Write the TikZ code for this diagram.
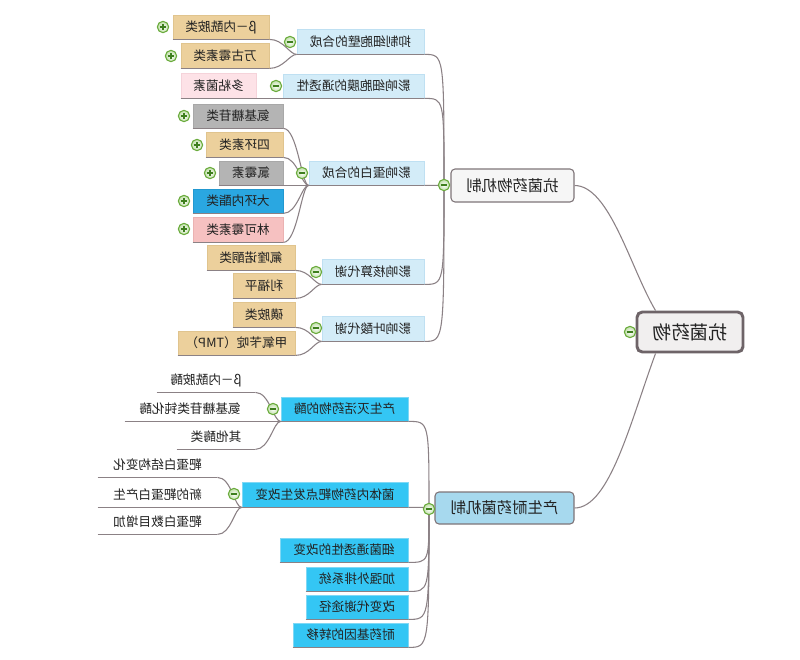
\documentclass[tikz,border=0pt]{standalone}
\usepackage{fontspec}
\usepackage{graphicx}
\setmainfont{Noto Sans CJK SC}
\definecolor{txt}{HTML}{222222}
\definecolor{lnc}{HTML}{8B8185}
\definecolor{lbf}{HTML}{D3ECF8}
\definecolor{lbd}{HTML}{BFE0F2}
\definecolor{tanf}{HTML}{ECD09C}
\definecolor{tand}{HTML}{E0C48E}
\definecolor{grf}{HTML}{B4B4B4}
\definecolor{grd}{HTML}{A8A8A8}
\definecolor{pklf}{HTML}{FDE2E7}
\definecolor{pkld}{HTML}{F5D3DA}
\definecolor{bluf}{HTML}{2AA7E1}
\definecolor{blud}{HTML}{2298D0}
\definecolor{pkf}{HTML}{F6C1C1}
\definecolor{pkd}{HTML}{EBB2B2}
\definecolor{cyf}{HTML}{34C6F4}
\definecolor{cyd}{HTML}{7FD8F5}
\definecolor{b2f}{HTML}{A7D9EE}
\definecolor{b1f}{HTML}{F6F6F6}
\definecolor{brd}{HTML}{7F7579}
\definecolor{rootf}{HTML}{F1EFEF}
\definecolor{rootd}{HTML}{6E6468}
\definecolor{btnf}{HTML}{E3F4D4}
\definecolor{btnd}{HTML}{6AAB3C}
\definecolor{btnm}{HTML}{3E7F1E}
\tikzset{
  box/.style={inner sep=0pt, line width=0.6pt, text=txt, font=\fontsize{9.5}{11}\selectfont},
  lvtwo/.style={fill=lbf, draw=lbd},
  tanb/.style={fill=tanf, draw=tand},
  gryb/.style={fill=grf, draw=grd},
  pklb/.style={fill=pklf, draw=pkld},
  blub/.style={fill=bluf, draw=blud},
  pinkb/.style={fill=pkf, draw=pkd},
  cyanb/.style={fill=cyf, draw=cyd},
  plainb/.style={},
  brb/.style={rounded corners=3pt, draw=brd, line width=0.8pt, font=\fontsize{11.5}{13}\selectfont},
  rootb/.style={rounded corners=4pt, draw=rootd, line width=2.2pt, fill=rootf, font=\fontsize{14}{16}\selectfont},
  conn/.style={draw=lnc, line width=0.8pt},
  cbtn/.style={circle, minimum size=8.5pt, inner sep=0pt, draw=btnd, line width=0.8pt, inner color=white, outer color=btnf!70!btnd},
  cmark/.style={draw=btnm, line width=0.9pt}
}
\newcommand\bx[7]{\node[box,#6,minimum width={(#4-#2)*0.75pt},minimum height={(#5-#3)*0.75pt}] (#1) at ({(#2+#4)/2},{(#3+#5)/2}) {\reflectbox{#7}};}
\newcommand\ulin[1]{\draw[conn] (#1.south west) -- (#1.south east);}
\newcommand\cmin[3]{\node[cbtn] (#1) at (#2,#3) {}; \draw[cmark] ([xshift=-2.3pt]#1.center) -- ([xshift=2.3pt]#1.center);}
\newcommand\cplus[3]{\node[cbtn] (#1) at (#2,#3) {}; \draw[cmark] ([xshift=-2.3pt]#1.center) -- ([xshift=2.3pt]#1.center) ([yshift=-2.3pt]#1.center) -- ([yshift=2.3pt]#1.center);}
\begin{document}
\begin{tikzpicture}[x=0.75pt,y=-0.75pt]
\fill[white] (0,0) rectangle (800,660);
\useasboundingbox (0,0) rectangle (800,660);
% root and branches
\bx{root}{637}{312}{743}{352}{rootb}{抗菌药物}
\bx{b1}{451}{169}{574}{202}{brb,fill=b1f}{抗菌药物机制}
\bx{b2}{435}{492}{574}{524}{brb,fill=b2f}{产生耐药菌机制}
% branch 1 level 2
\bx{a1}{297}{29}{424}{54}{lvtwo}{抑制细胞壁的合成}
\bx{a2}{283}{74}{424}{98}{lvtwo}{影响细胞膜的通透性}
\bx{a3}{309}{161}{424}{185}{lvtwo}{影响蛋白的合成}
\bx{a4}{322}{259}{424}{284}{lvtwo}{影响核算代谢}
\bx{a5}{322}{316}{424}{341}{lvtwo}{影响叶酸代谢}
% branch 1 leaves
\bx{a11}{173}{15}{269}{39}{tanb}{β－内酰胺类}
\bx{a12}{181}{43}{269}{68}{tanb}{万古霉素类}
\bx{a21}{181}{73}{256}{98}{pklb}{多粘菌素}
\bx{a31}{193}{104}{283}{128}{gryb}{氨基糖苷类}
\bx{a32}{206}{132}{283}{157}{tanb}{四环素类}
\bx{a33}{219}{161}{283}{185}{gryb}{氯霉素}
\bx{a34}{193}{189}{283}{213}{blub}{大环内酯类}
\bx{a35}{193}{217}{283}{242}{pinkb}{林可霉素类}
\bx{a41}{207}{245}{295}{270}{tanb}{氟喹诺酮类}
\bx{a42}{233}{273}{295}{298}{tanb}{利福平}
\bx{a51}{233}{302}{295}{327}{tanb}{磺胺类}
\bx{a52}{178}{331}{295}{355}{tanb}{甲氧苄啶（TMP）}
% branch 2 level 2
\bx{c1}{281}{397}{408}{421}{cyanb}{产生灭活药物的酶}
\bx{c2}{242}{482}{408}{507}{cyanb}{菌体内药物靶点发生改变}
\bx{c3}{280}{538}{408}{562}{cyanb}{细菌通透性的改变}
\bx{c4}{306}{567}{408}{591}{cyanb}{加强外排系统}
\bx{c5}{306}{595}{408}{619}{cyanb}{改变代谢途径}
\bx{c6}{293}{623}{408}{647}{cyanb}{耐药基因的转移}
% branch 2 leaves
\bx{c11}{157}{368}{255}{392}{plainb}{β－内酰胺酶}
\bx{c12}{125}{397}{255}{421}{plainb}{氨基糖苷类钝化酶}
\bx{c13}{177}{425}{255}{449}{plainb}{其他酶类}
\bx{c21}{98}{453}{217}{477}{plainb}{靶蛋白结构变化}
\bx{c22}{98}{482}{217}{507}{plainb}{新的靶蛋白产生}
\bx{c23}{98}{510}{217}{534}{plainb}{靶蛋白数目增加}
% underlines
\foreach \n in {a1,a2,a3,a4,a5,a11,a12,a21,a31,a32,a33,a34,a35,a41,a42,a51,a52,c1,c2,c3,c4,c5,c6,c11,c12,c13,c21,c22,c23} {\ulin{\n}}
% button anchors
\coordinate (k1) at (444,185);
\coordinate (k2) at (429,509);
% root connectors
\draw[conn] (b1.east) .. controls +(35,0) and +(-25,-42) .. ([xshift=15pt]root.north west);
\draw[conn] (b2.east) .. controls +(35,0) and +(-25,68) .. ([xshift=15pt]root.south west);
% branch 1 spine
\foreach \n in {a1,a2,a3,a4,a5} {\draw[conn] (\n.south east) .. controls (k1 |- \n.south east) .. (k1);}
% branch 2 spine
\foreach \n in {c1,c2,c3,c4,c5,c6} {\draw[conn] (\n.south east) .. controls (k2 |- \n.south east) .. (k2);}
% level 3 connectors
\foreach \l/\p in {a11/a1,a12/a1,a21/a2,a31/a3,a32/a3,a33/a3,a34/a3,a35/a3,a41/a4,a42/a4,a51/a5,a52/a5,c11/c1,c12/c1,c13/c1,c21/c2,c22/c2,c23/c2}
  {\draw[conn] (\l.south east) .. controls +(14,0) and +(-7,0) .. (\p.south west);}
% collapse buttons
\cmin{kr}{630}{332}
\cmin{kb1}{444}{185}
\cmin{kb2}{429}{509}
\cmin{ka1}{290}{42}
\cmin{ka2}{276}{86}
\cmin{ka3}{302}{173}
\cmin{ka4}{316}{272}
\cmin{ka5}{316}{328}
\cmin{kc1}{273}{409}
\cmin{kc2}{234}{494}
\cplus{pa11}{163}{27}
\cplus{pa12}{171}{56}
\cplus{pa31}{184}{116}
\cplus{pa32}{197}{145}
\cplus{pa33}{210}{173}
\cplus{pa34}{184}{201}
\cplus{pa35}{184}{229}
\end{tikzpicture}
\end{document}
